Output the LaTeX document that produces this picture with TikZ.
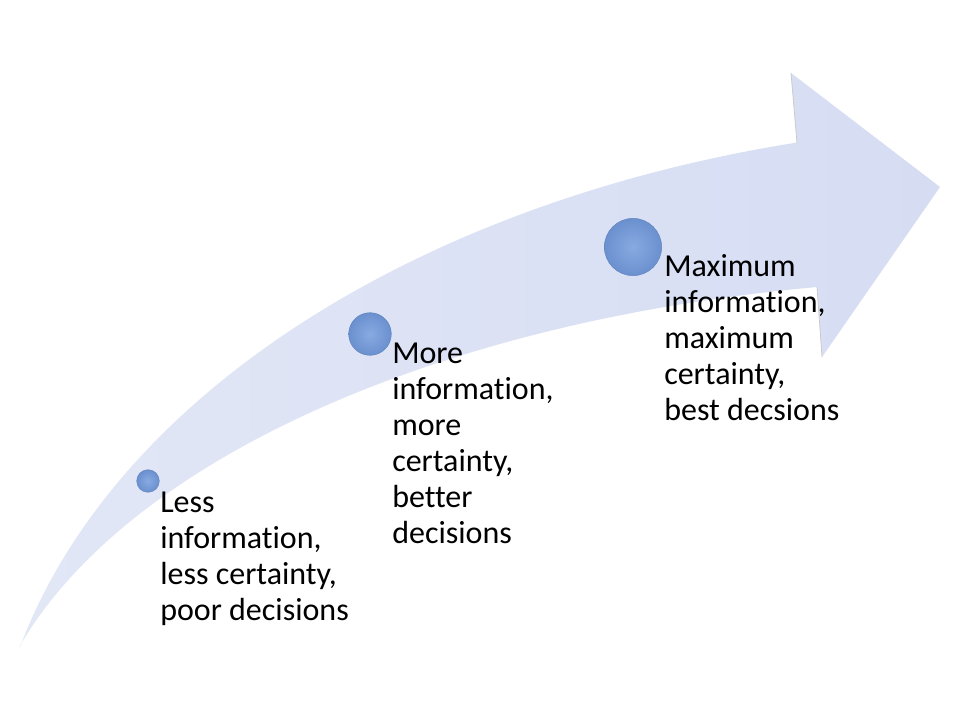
\documentclass[tikz,border=0pt]{standalone}
\usepackage{fontspec}
\setmainfont{Carlito}[Ligatures=NoCommon]
\definecolor{shaftlight}{RGB}{226,231,246}
\definecolor{shaftdark}{RGB}{214,221,243}
\definecolor{ballin}{RGB}{136,170,226}
\definecolor{ballout}{RGB}{106,144,206}
\definecolor{balledge}{RGB}{96,130,190}

\begin{document}
\begin{tikzpicture}[
    x=0.75pt, y=-0.75pt,
    shaft/.style={left color=shaftlight, right color=shaftdark, draw=none},
    headedge/.style={draw=gray!45, line width=0.5pt},
    stagedot/.style={circle, inner sep=0pt, shading=radial, inner color=ballin,
                     outer color=ballout, draw=balledge, line width=0.3pt},
    stagetext/.style={anchor=base west, align=left, inner sep=0pt,
                      font=\fontsize{24}{27}\selectfont}
  ]

  \useasboundingbox[fill=white] (0,0) rectangle (960,720);

  % Curved arrow body (two elliptic edges meeting at the tail)
  \path[shaft]
    (20,647) arc[start angle=193.7, end angle=256.2, x radius=1060, y radius=687]
    -- (791,73) -- (940,187) -- (822,357) -- (817,287)
    arc[start angle=259.7, end angle=196.1, x radius=1020, y radius=509]
    -- cycle;

  % Back edges of the head
  \coordinate (hu1) at (791,73);  \coordinate (hu2) at (797,143);
  \coordinate (hl1) at (817,287); \coordinate (hl2) at (822,357);
  \draw[headedge] (hu1) -- (hu2);
  \draw[headedge] (hl1) -- (hl2);

  % Stage markers
  \node[stagedot, minimum size=17pt] (s1) at (148,481) {};
  \node[stagedot, minimum size=32pt] (s2) at (370,334) {};
  \node[stagedot, minimum size=43pt] (s3) at (633,247) {};

  % Stage descriptions (base = baseline of the last line)
  \node[stagetext] (d1) at (160,620) {Less\\information,\\less certainty,\\poor decisions};
  \node[stagetext] (d2) at (392,543) {More\\information,\\more\\certainty,\\better\\decisions};
  \node[stagetext] (d3) at (664,420) {Maximum\\information,\\maximum\\certainty,\\best decsions};

\end{tikzpicture}
\end{document}
